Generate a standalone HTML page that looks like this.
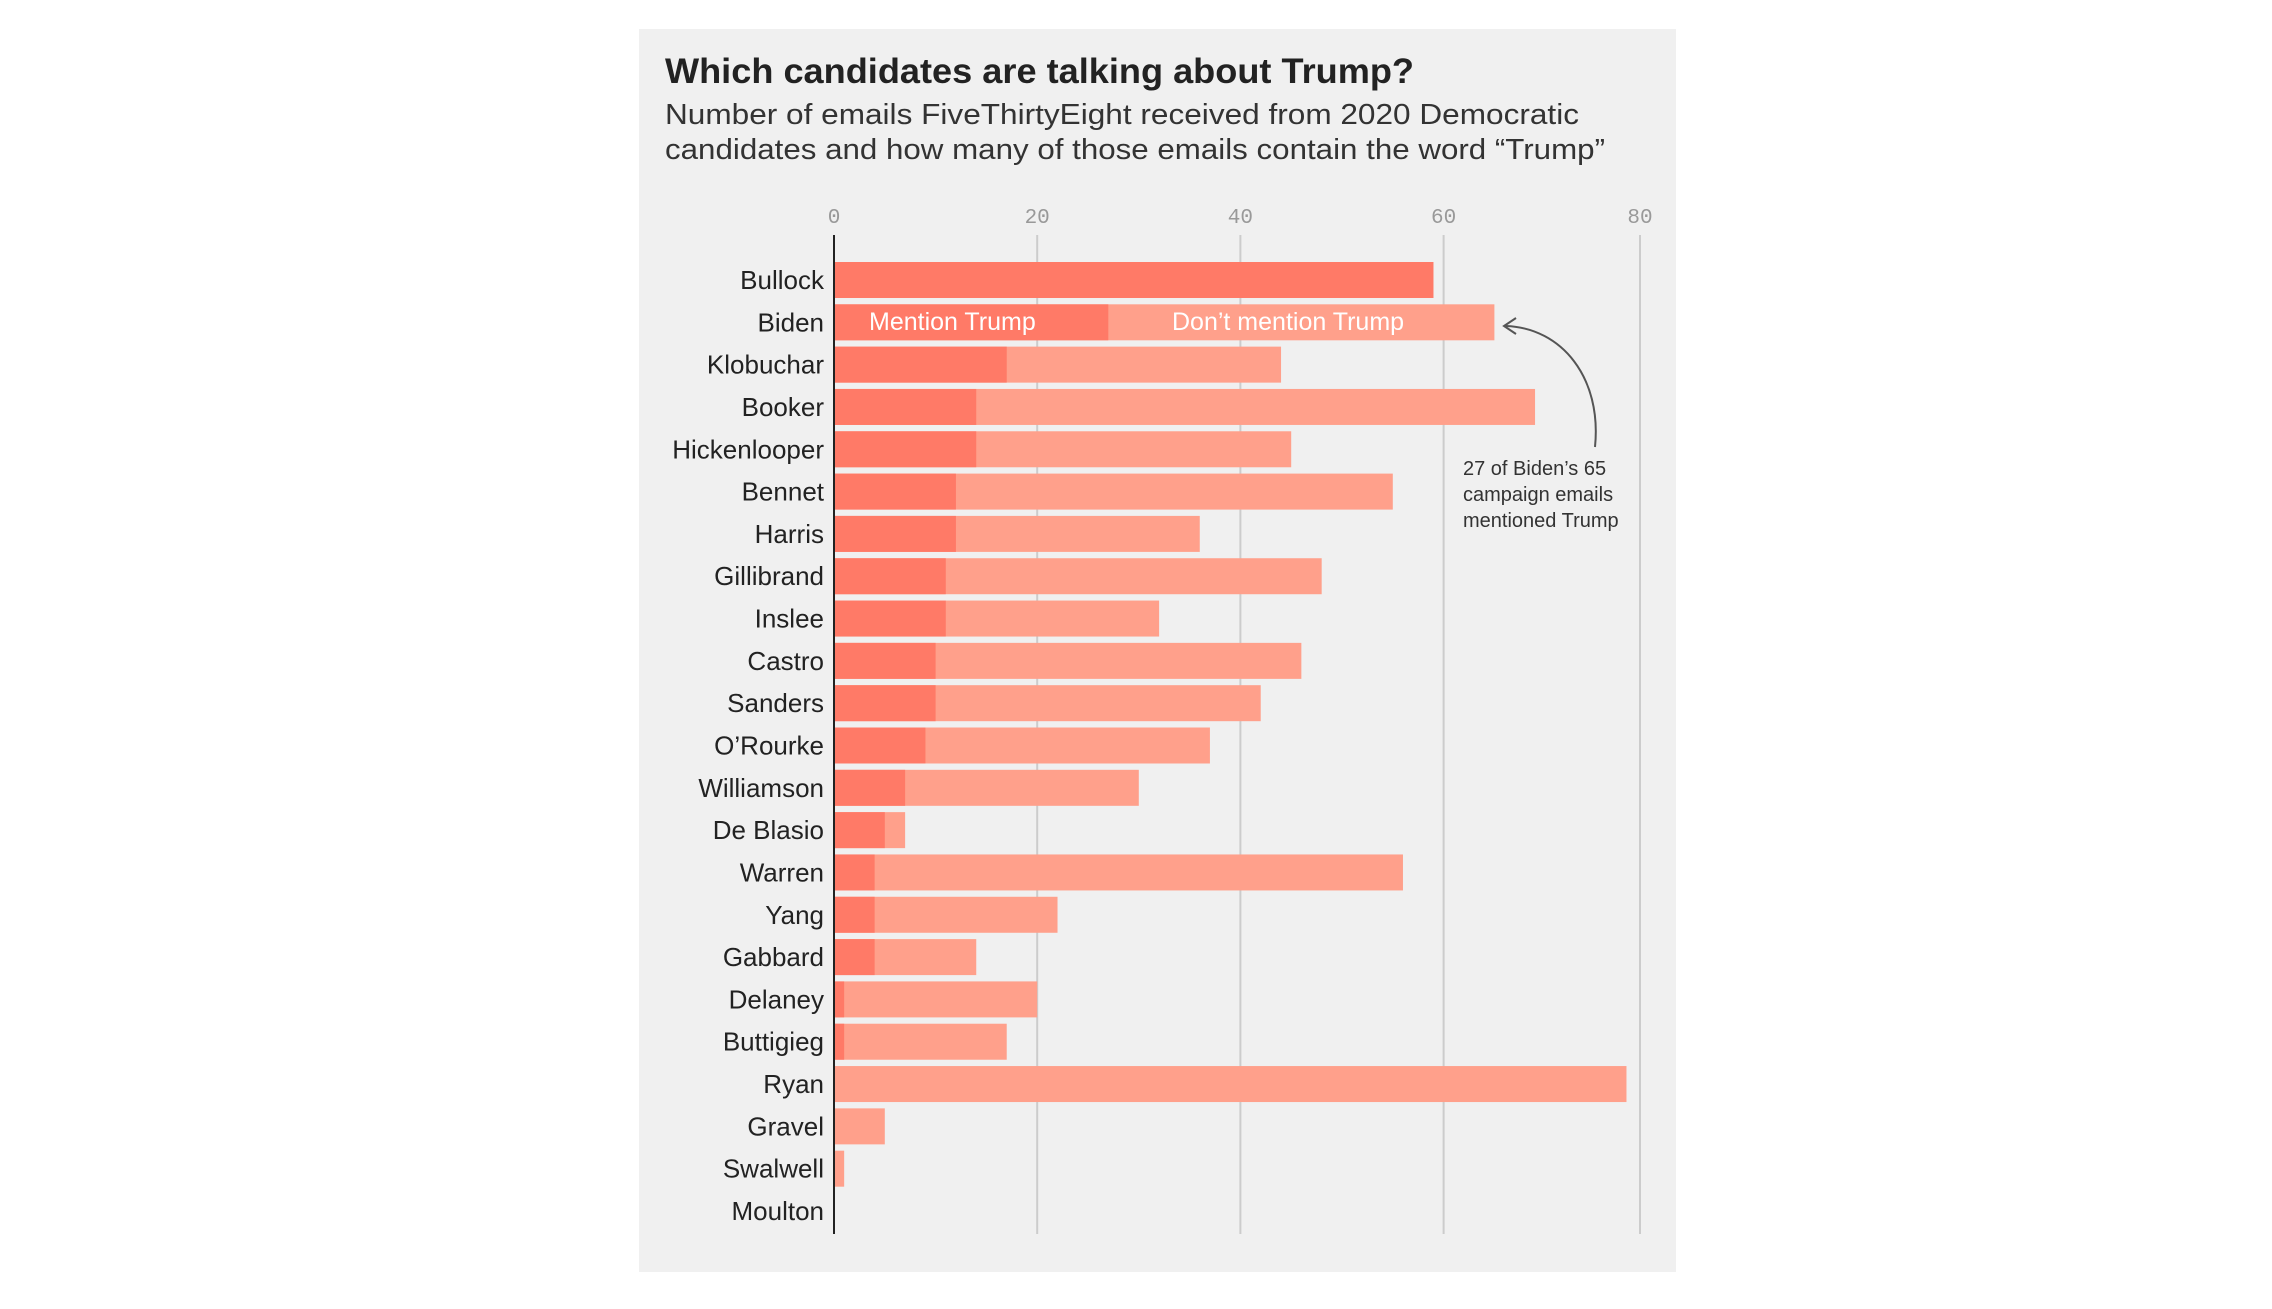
<!DOCTYPE html>
<html><head><meta charset="utf-8"><style>
body{margin:0;background:#fff;width:2272px;height:1304px;overflow:hidden;font-family:"Liberation Sans",sans-serif}
</style></head><body>
<svg id="chart" width="2272" height="1304" xmlns="http://www.w3.org/2000/svg">
<rect x="639" y="29" width="1037" height="1243" fill="#f0f0f0"/>
<text x="665" y="83" font-size="35" font-weight="bold" fill="#222" textLength="749" lengthAdjust="spacingAndGlyphs">Which candidates are talking about Trump?</text>
<text x="665" y="124" font-size="29" fill="#333" textLength="914" lengthAdjust="spacingAndGlyphs">Number of emails FiveThirtyEight received from 2020 Democratic</text>
<text x="665" y="159" font-size="29" fill="#333" textLength="940" lengthAdjust="spacingAndGlyphs">candidates and how many of those emails contain the word “Trump”</text>
<g id="grid"></g><g id="bars"></g><g id="labels"></g>
<text x="869" y="330" font-size="25" fill="#fff">Mention Trump</text>
<text x="1172" y="330" font-size="25" fill="#fff">Don’t mention Trump</text>
<path d="M1595,447 C1602,378 1562,328 1506,326" fill="none" stroke="#555" stroke-width="2"/>
<path d="M1516,318 L1504,326 L1516,334" fill="none" stroke="#555" stroke-width="2"/>
<text font-size="20" fill="#333"><tspan x="1463" y="475">27 of Biden’s 65</tspan><tspan x="1463" y="501">campaign emails</tspan><tspan x="1463" y="527">mentioned Trump</tspan></text>
</svg>
<script>
const candidates=["Bullock","Biden","Klobuchar","Booker","Hickenlooper","Bennet","Harris","Gillibrand","Inslee","Castro","Sanders","O’Rourke","Williamson","De Blasio","Warren","Yang","Gabbard","Delaney","Buttigieg","Ryan","Gravel","Swalwell","Moulton"];
const totalEmails=[59,65,44,69,45,55,36,48,32,46,42,37,30,7,56,22,14,20,17,78,5,1,0];
const mentionTrump=[59,27,17,14,14,12,12,11,11,10,10,9,7,5,4,4,4,1,1,0,0,0,0];
const ticks=[0,20,40,60,80];
const NS="http://www.w3.org/2000/svg";
const x=v=>834+v*10.16;
const xt=v=>Math.min(x(v),1640);
const y=i=>280+i*(1211-280)/22;
const bh=36;
const grid=document.getElementById('grid'),bars=document.getElementById('bars'),labels=document.getElementById('labels');
function mk(tag,attrs,parent){const e=document.createElementNS(NS,tag);for(const k in attrs)e.setAttribute(k,attrs[k]);parent.appendChild(e);return e;}
ticks.forEach(t=>{
  if(t>0){const l=mk('line',{x1:xt(t),x2:xt(t),y1:235,y2:1234,stroke:'#ccc','stroke-width':2},grid);
  
  }
  const tx=mk('text',{x:xt(t),y:223,'text-anchor':'middle','font-size':21,fill:'#999','font-family':'Liberation Mono, monospace'},grid);
  tx.textContent=t;
  
  
});
candidates.forEach((c,i)=>{
  const cy=y(i);
  const r2=mk('rect',{x:x(0),y:cy-bh/2,width:x(totalEmails[i])-x(0),height:bh,fill:'#ffa08b'},bars);
  
  
  const r1=mk('rect',{x:x(0),y:cy-bh/2,width:x(mentionTrump[i])-x(0),height:bh,fill:'#ff7a67'},bars);
  
  
  const t=mk('text',{x:824,y:cy+9,'text-anchor':'end','font-size':26,fill:'#222'},labels);
  t.textContent=c;
  
  
});
const ax=mk('line',{x1:x(0),x2:x(0),y1:235,y2:1234,stroke:'#222','stroke-width':2},labels);


</script>
</body></html>
